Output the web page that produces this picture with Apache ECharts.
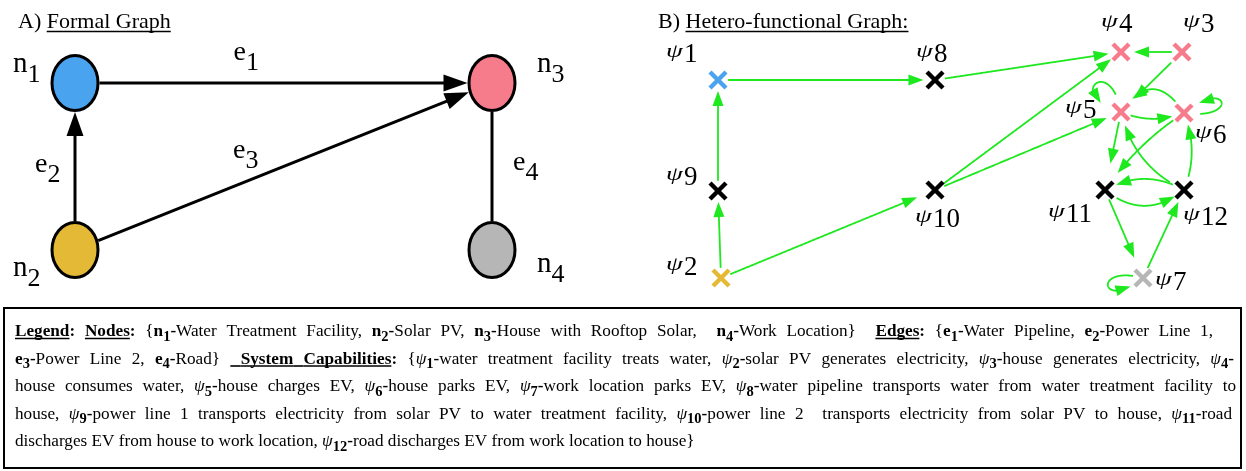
<!DOCTYPE html>
<html><head><meta charset="utf-8">
<script src="https://cdn.jsdelivr.net/npm/echarts@6/dist/echarts.min.js"></script>
<style>html,body{margin:0;padding:0;background:#fff}#c{width:1246px;height:471px}</style>
</head><body><div id="c"></div>
<script>
// ================= DATA =================
// A) formal graph
const formalNodes = ['n1', 'n2', 'n3', 'n4'];
const formalX = [75, 75, 492, 492];
const formalY = [83, 250, 83, 250];
const formalEdges = [['n1', 'n3'], ['n2', 'n1'], ['n2', 'n3'], ['n3', 'n4']];
const formalEdgeNames = ['e1', 'e2', 'e3', 'e4'];
const formalEdgeDirected = [true, true, true, false];

// B) hetero-functional graph
const hfgNodes = ['ψ1', 'ψ2', 'ψ3', 'ψ4', 'ψ5', 'ψ6', 'ψ7', 'ψ8', 'ψ9', 'ψ10', 'ψ11', 'ψ12'];
const hfgX = [718, 721, 1182, 1121, 1121, 1184, 1143, 935, 718, 935, 1105, 1184];
const hfgY = [80, 278, 52, 52, 112, 113, 278, 80, 191, 190, 190, 190];
const hfgResource = ['n1', 'n2', 'n3', 'n3', 'n3', 'n3', 'n4', 'e1', 'e2', 'e3', 'e4', 'e4'];
const hfgEdges = [
  ['ψ1', 'ψ8'], ['ψ9', 'ψ1'], ['ψ2', 'ψ9'], ['ψ2', 'ψ10'], ['ψ8', 'ψ4'], ['ψ10', 'ψ4'],
  ['ψ10', 'ψ5'], ['ψ3', 'ψ4'], ['ψ3', 'ψ5'], ['ψ5', 'ψ5'], ['ψ6', 'ψ5'], ['ψ5', 'ψ6'],
  ['ψ6', 'ψ6'], ['ψ5', 'ψ11'], ['ψ6', 'ψ11'], ['ψ12', 'ψ11'], ['ψ11', 'ψ12'], ['ψ12', 'ψ5'],
  ['ψ12', 'ψ6'], ['ψ11', 'ψ7'], ['ψ7', 'ψ12'], ['ψ7', 'ψ7']
];

// Titles & legend text
const titleA = ['A) ', 'Formal Graph'];
const titleB = ['B) ', 'Hetero-functional Graph:'];
const legendLines = [
  [['u','Legend'],['b',': '],['u','Nodes'],['b',': '],['r','{'],['b','n'],['s','1'],['b','-'],['r','Water Treatment Facility, '],['b','n'],['s','2'],['b','-'],['r','Solar PV, '],['b','n'],['s','3'],['b','-'],['r','House with Rooftop Solar,  '],['b','n'],['s','4'],['b','-'],['r','Work Location}  '],['u','Edges'],['b',': '],['r','{'],['b','e'],['s','1'],['b','-'],['r','Water Pipeline, '],['b','e'],['s','2'],['b','-'],['r','Power Line 1,']],
  [['b','e'],['s','3'],['b','-'],['r','Power Line 2, '],['b','e'],['s','4'],['b','-'],['r','Road} '],['u',' System Capabilities'],['b',': '],['r','{'],['i','ψ'],['s','1'],['b','-'],['r','water treatment facility treats water, '],['i','ψ'],['s','2'],['b','-'],['r','solar PV generates electricity, '],['i','ψ'],['s','3'],['b','-'],['r','house generates electricity, '],['i','ψ'],['s','4'],['b','-']],
  [['r','house consumes water, '],['i','ψ'],['s','5'],['b','-'],['r','house charges EV, '],['i','ψ'],['s','6'],['b','-'],['r','house parks EV, '],['i','ψ'],['s','7'],['b','-'],['r','work location parks EV, '],['i','ψ'],['s','8'],['b','-'],['r','water pipeline transports water from water treatment facility to']],
  [['r','house, '],['i','ψ'],['s','9'],['b','-'],['r','power line 1 transports electricity from solar PV to water treatment facility, '],['i','ψ'],['s','10'],['b','-'],['r','power line 2  transports electricity from solar PV to house, '],['i','ψ'],['s','11'],['b','-'],['r','road']],
  [['r','discharges EV from house to work location, '],['i','ψ'],['s','12'],['b','-'],['r','road discharges EV from work location to house}']]
];

// ================= STYLE / LAYOUT =================
const SERIF = '"Liberation Serif","Times New Roman",Times,serif';
const nodeColor = { n1: '#4aa3ef', n2: '#e4b935', n3: '#f67b8b', n4: '#b6b6b6' };
const GREEN = '#1ee81e';
const ELL = { rx: 23, ry: 27.5, border: 3 };
const formalLabelPos = { n1: [-62, -11], n2: [-62, 26], n3: [45, -11], n4: [45, 22] };
const formalEdgeLabelPos = { e1: [-50, -23], e2: [-40, 5.5], e3: [-50.5, -8.5], e4: [21, 3.5] };
// [psi left offset, digit baseline offset]
const hfgLabelPos = {
  'ψ1': [-50, -18], 'ψ2': [-53, -3], 'ψ3': [3, -20], 'ψ4': [-18, -20], 'ψ5': [-54, 6], 'ψ6': [13, 30],
  'ψ7': [14, 12], 'ψ8': [-17, -18], 'ψ9': [-50, -6], 'ψ10': [-18, 37], 'ψ11': [-55, 32], 'ψ12': [1, 35]
};
const PSI = { size: 27, scaleY: 0.68, raise: 5.5, advance: 16, digitSize: 27 };
// edge geometry: bend = sagitta/length (+ = left of travel), g0/g1 = gaps at start/end
const hfgEdgeGeom = {
  'ψ2>ψ10': { g1: 19 }, 'ψ8>ψ4': { g1: 12 }, 'ψ10>ψ4': { g1: 12 }, 'ψ10>ψ5': { g1: 15 },
  'ψ3>ψ4': { g1: 13 }, 'ψ3>ψ5': { g0: 15, g1: 19 }, 'ψ5>ψ11': { g1: 27 }, 'ψ6>ψ11': { bend: -0.05, g0: 13, g1: 21 },
  'ψ12>ψ11': { bend: -0.14, g0: 12, g1: 12 }, 'ψ11>ψ12': { bend: -0.2, g0: 14, g1: 11 },
  'ψ12>ψ5': { bend: 0.12, g0: 16, g1: 14 }, 'ψ12>ψ6': { bend: -0.1, g0: 14, g1: 12 },
  'ψ6>ψ5': { bend: -0.37, g0: 14, g1: 17 }, 'ψ5>ψ6': { bend: -0.1, g0: 10, g1: 12 },
  'ψ11>ψ7': { g1: 22 }, 'ψ7>ψ12': { g0: 11, g1: 13 },
  'ψ5>ψ5': { loop: [-100, -165, 60], g0: 18, g1: 22 },
  'ψ6>ψ6': { loop: [8, -40, 57], g0: 16, g1: 18 },
  'ψ7>ψ7': { loop: [195, 140, 54], g0: 10, g1: 15 }
};
const LEG = { x: 15, base: [336, 363.5, 391, 418.5, 446], right: [1213, 1234, 1236, 1232, null] };
const FS = 17.2;
const segStyle = {
  r: { size: FS, weight: 'normal', style: 'normal', dy: 0 },
  b: { size: FS, weight: 'bold', style: 'normal', dy: 0 },
  u: { size: FS, weight: 'bold', style: 'normal', dy: 0, underline: true },
  s: { size: 14.5, weight: 'bold', style: 'normal', dy: 4.5 },
  i: { size: FS, weight: 'normal', style: 'italic', dy: 0 }
};

// ================= TEXT HELPERS =================
const mc = document.createElement('canvas').getContext('2d');
function fnt(size, weight, style) { return (style || 'normal') + ' ' + (weight || 'normal') + ' ' + size + 'px ' + SERIF; }
function tw(text, size, weight, style) { mc.font = fnt(size, weight, style); return mc.measureText(text).width; }
const boc = {};
function baseOff(size, weight, style) {
  const k = size + '|' + weight + '|' + style;
  if (k in boc) return boc[k];
  mc.font = fnt(size, weight, style); mc.textBaseline = 'middle';
  const d = mc.measureText('H').actualBoundingBoxDescent; mc.textBaseline = 'alphabetic';
  return (boc[k] = d);
}
function textEl(text, x, baseline, size, weight, style, fill) {
  return { type: 'text', x: x, y: baseline - baseOff(size, weight, style), silent: true,
    style: { text: text, fontSize: size, fontFamily: SERIF, fontWeight: weight || 'normal', fontStyle: style || 'normal',
      fill: fill || '#000', align: 'left', verticalAlign: 'middle' } };
}
function lineEl(x1, y1, x2, y2, w) {
  return { type: 'line', silent: true, shape: { x1: x1, y1: y1, x2: x2, y2: y2 }, style: { stroke: '#000', lineWidth: w } };
}
function subLabel(main, sub, x, base, mainSize, mainStyle, subSize, subDy) {
  const w = tw(main, mainSize, 'normal', mainStyle);
  return [textEl(main, x, base, mainSize, 'normal', mainStyle), textEl(sub, x + w, base + subDy, subSize, 'normal', 'normal')];
}
// vertically squashed italic psi, glyph baseline at 'base'
function psiEl(x, base) {
  const off = baseOff(PSI.size, 'normal', 'italic');
  return { type: 'text', x: x, y: base - off * PSI.scaleY, scaleY: PSI.scaleY, silent: true,
    style: { text: 'ψ', fontSize: PSI.size, fontFamily: SERIF, fontStyle: 'italic', fill: '#000', align: 'left', verticalAlign: 'middle' } };
}

// ================= GRAPHIC (titles, legend box) =================
const graphicEls = [];
function title(parts, x, base) {
  const size = 22;
  const w0 = tw(parts[0], size);
  const w1 = tw(parts[1], size);
  graphicEls.push(textEl(parts[0], x, base, size));
  graphicEls.push(textEl(parts[1], x + w0, base, size));
  graphicEls.push(lineEl(x + w0, base + 3.5, x + w0 + w1, base + 3.5, 1.3));
}
title(titleA, 18, 28);
title(titleB, 658, 28);
graphicEls.push({ type: 'rect', silent: true, shape: { x: 4, y: 308, width: 1237, height: 160 }, style: { fill: 'none', stroke: '#000', lineWidth: 2 } });
legendLines.forEach(function (line, li) {
  const toks = [];
  line.forEach(function (seg) {
    const st = segStyle[seg[0]];
    seg[1].split(/( )/).forEach(function (p) {
      if (p === '') return;
      toks.push({ text: p, st: st, space: p === ' ', w: tw(p, st.size, st.weight, st.style) });
    });
  });
  let natural = 0, nsp = 0;
  toks.forEach(function (t) { natural += t.w; if (t.space) nsp++; });
  const extra = LEG.right[li] ? (LEG.right[li] - LEG.x - natural) / nsp : 0;
  let x = LEG.x;
  const base = LEG.base[li];
  toks.forEach(function (t) {
    const w = t.space ? t.w + extra : t.w;
    if (!t.space) graphicEls.push(textEl(t.text, x, base + t.st.dy, t.st.size, t.st.weight, t.st.style));
    if (t.st.underline) graphicEls.push(lineEl(x, base + 2.5, x + w, base + 2.5, 1.6));
    x += w;
  });
});

// ================= GEOMETRY HELPERS =================
function arrowHead(tip, dir, len, hw) {
  const nx = -dir[1], ny = dir[0];
  const bx = tip[0] - dir[0] * len, by = tip[1] - dir[1] * len;
  return [[tip[0], tip[1]], [bx + nx * hw, by + ny * hw], [bx - nx * hw, by - ny * hw]];
}
function dist(a, b) { return Math.hypot(a[0] - b[0], a[1] - b[1]); }

// ================= RENDERERS =================
function renderFormalEdge(params, api) {
  const i = api.value(4);
  const p = api.coord([api.value(0), api.value(1)]);
  const q = api.coord([api.value(2), api.value(3)]);
  const L = dist(p, q), ux = (q[0] - p[0]) / L, uy = (q[1] - p[1]) / L;
  const r = 1 / Math.sqrt((ux / ELL.rx) ** 2 + (uy / ELL.ry) ** 2) + ELL.border / 2;
  const s = [p[0] + ux * r, p[1] + uy * r];
  const t = [q[0] - ux * r, q[1] - uy * r];
  const children = [];
  if (formalEdgeDirected[i]) {
    const alen = 24, ahw = 8.5;
    children.push({ type: 'line', shape: { x1: s[0], y1: s[1], x2: t[0] - ux * alen * 0.7, y2: t[1] - uy * alen * 0.7 }, style: { stroke: '#000', lineWidth: 3 } });
    children.push({ type: 'polygon', shape: { points: arrowHead(t, [ux, uy], alen, ahw) }, style: { fill: '#000' } });
  } else {
    children.push({ type: 'line', shape: { x1: s[0], y1: s[1], x2: t[0], y2: t[1] }, style: { stroke: '#000', lineWidth: 3 } });
  }
  const name = formalEdgeNames[i];
  const lp = formalEdgeLabelPos[name];
  const mx = (p[0] + q[0]) / 2, my = (p[1] + q[1]) / 2;
  subLabel(name[0], name.slice(1), mx + lp[0], my + lp[1], 28, 'normal', 26, 10).forEach(function (e) { children.push(e); });
  return { type: 'group', children: children };
}
function renderFormalNode(params, api) {
  const i = api.value(2);
  const c = api.coord([api.value(0), api.value(1)]);
  const name = formalNodes[i];
  const children = [{ type: 'ellipse', shape: { cx: c[0], cy: c[1], rx: ELL.rx, ry: ELL.ry }, style: { fill: nodeColor[name], stroke: '#000', lineWidth: ELL.border } }];
  const lp = formalLabelPos[name];
  subLabel(name[0], name.slice(1), c[0] + lp[0], c[1] + lp[1], 29, 'normal', 26, 10).forEach(function (e) { children.push(e); });
  return { type: 'group', children: children };
}
function renderHfgEdge(params, api) {
  const i = api.value(4);
  const key = hfgEdges[i][0] + '>' + hfgEdges[i][1];
  const g = hfgEdgeGeom[key] || {};
  const g0 = g.g0 != null ? g.g0 : 10, g1 = g.g1 != null ? g.g1 : 11;
  const p = api.coord([api.value(0), api.value(1)]);
  const q = api.coord([api.value(2), api.value(3)]);
  const N = 300, pts = [];
  if (g.loop) {
    const a0 = g.loop[0] * Math.PI / 180, a1 = g.loop[1] * Math.PI / 180, Lc = g.loop[2];
    const c1 = [p[0] + Lc * Math.cos(a0), p[1] + Lc * Math.sin(a0)];
    const c2 = [p[0] + Lc * Math.cos(a1), p[1] + Lc * Math.sin(a1)];
    for (let k = 0; k <= N; k++) {
      const t = k / N, u = 1 - t;
      pts.push([u * u * u * p[0] + 3 * u * u * t * c1[0] + 3 * u * t * t * c2[0] + t * t * t * p[0],
                u * u * u * p[1] + 3 * u * u * t * c1[1] + 3 * u * t * t * c2[1] + t * t * t * p[1]]);
    }
  } else {
    const L = dist(p, q), dx = (q[0] - p[0]) / L, dy = (q[1] - p[1]) / L;
    const b = (g.bend || 0) * 2 * L;
    const c = [(p[0] + q[0]) / 2 + dy * b, (p[1] + q[1]) / 2 - dx * b];
    for (let k = 0; k <= N; k++) {
      const t = k / N, u = 1 - t;
      pts.push([u * u * p[0] + 2 * u * t * c[0] + t * t * q[0], u * u * p[1] + 2 * u * t * c[1] + t * t * q[1]]);
    }
  }
  let i0 = 0; while (i0 < N && dist(pts[i0], p) < g0) i0++;
  let i1 = N; while (i1 > i0 && dist(pts[i1], q) < g1) i1--;
  const tip = pts[i1];
  const alen = 15, ahw = 5.5;
  let kb = i1; while (kb > i0 && dist(pts[kb], tip) < alen) kb--;
  const dl = dist(tip, pts[kb]) || 1;
  const dir = [(tip[0] - pts[kb][0]) / dl, (tip[1] - pts[kb][1]) / dl];
  let ke = i1; while (ke > i0 && dist(pts[ke], tip) < alen * 0.6) ke--;
  const line = pts.slice(i0, ke + 1);
  return { type: 'group', children: [
    { type: 'polyline', shape: { points: line }, style: { stroke: GREEN, lineWidth: 1.8, fill: null } },
    { type: 'polygon', shape: { points: arrowHead(tip, dir, alen, ahw) }, style: { fill: GREEN } }
  ] };
}
function renderHfgNode(params, api) {
  const i = api.value(2);
  const c = api.coord([api.value(0), api.value(1)]);
  const name = hfgNodes[i];
  const res = hfgResource[i];
  const col = nodeColor[res] || '#000';
  const h = 8;
  const children = [
    { type: 'line', shape: { x1: c[0] - h, y1: c[1] - h, x2: c[0] + h, y2: c[1] + h }, style: { stroke: col, lineWidth: 4.5 } },
    { type: 'line', shape: { x1: c[0] - h, y1: c[1] + h, x2: c[0] + h, y2: c[1] - h }, style: { stroke: col, lineWidth: 4.5 } }
  ];
  const lp = hfgLabelPos[name];
  const x = c[0] + lp[0], base = c[1] + lp[1];
  children.push(psiEl(x - 2, base - PSI.raise));
  children.push(textEl(name.slice(1), x + PSI.advance, base, PSI.digitSize, 'normal', 'normal'));
  return { type: 'group', children: children };
}

// ================= CHART =================
const chart = echarts.init(document.getElementById('c'), null, { renderer: 'canvas' });
function edgeData(names, xs, ys, edges) {
  return edges.map(function (e, i) {
    const a = names.indexOf(e[0]), b = names.indexOf(e[1]);
    return [xs[a], ys[a], xs[b], ys[b], i];
  });
}
chart.setOption({
  animation: false,
  backgroundColor: '#fff',
  grid: { left: 0, right: 0, top: 0, bottom: 0 },
  xAxis: { type: 'value', min: 0, max: 1246, show: false },
  yAxis: { type: 'value', min: 0, max: 471, inverse: true, show: false },
  graphic: { elements: graphicEls },
  series: [
    { type: 'custom', name: 'formal edges', silent: true, clip: false, renderItem: renderFormalEdge,
      encode: { x: [0, 2], y: [1, 3] }, data: edgeData(formalNodes, formalX, formalY, formalEdges) },
    { type: 'custom', name: 'formal nodes', silent: true, clip: false, renderItem: renderFormalNode,
      encode: { x: 0, y: 1 }, data: formalNodes.map(function (n, i) { return [formalX[i], formalY[i], i]; }) },
    { type: 'custom', name: 'hfg edges', silent: true, clip: false, renderItem: renderHfgEdge,
      encode: { x: [0, 2], y: [1, 3] }, data: edgeData(hfgNodes, hfgX, hfgY, hfgEdges) },
    { type: 'custom', name: 'hfg nodes', silent: true, clip: false, renderItem: renderHfgNode,
      encode: { x: 0, y: 1 }, data: hfgNodes.map(function (n, i) { return [hfgX[i], hfgY[i], i]; }) }
  ]
});
</script>
</body></html>
